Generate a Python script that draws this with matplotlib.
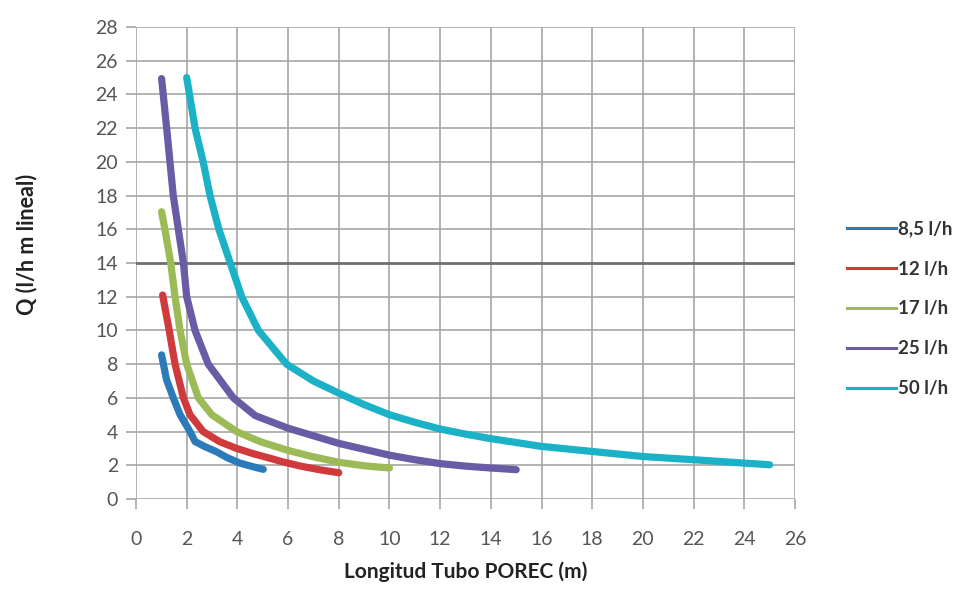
import matplotlib
matplotlib.use("Agg")
import matplotlib.pyplot as plt

plt.rcParams['font.family'] = ['Lato', 'DejaVu Sans']

# Length of PORE C tube (m) vs flow per linear metre, one series per emitter flow
len_85 = [1.01, 1.2, 1.47, 1.74, 2.13, 2.33, 2.7, 3.18, 3.6, 4.1, 4.6, 5.02]
q_85 = [8.55, 7.1, 6.0, 5.0, 4.0, 3.41, 3.12, 2.8, 2.45, 2.13, 1.92, 1.76]

len_12 = [1.05, 1.31, 1.54, 1.87, 2.13, 2.65, 3.3, 3.97, 4.6, 5.28, 5.8, 6.5, 7.3, 8.0]
q_12 = [12.1, 10.0, 8.0, 6.0, 5.0, 4.0, 3.4, 3.0, 2.7, 2.42, 2.2, 1.95, 1.72, 1.56]

len_17 = [1.01, 1.14, 1.37, 1.54, 1.74, 2.0, 2.46, 2.99, 3.97, 4.9, 6.0, 7.0, 8.0, 9.0, 10.0]
q_17 = [17.04, 16.0, 14.0, 12.0, 10.0, 8.0, 6.0, 5.0, 4.0, 3.4, 2.88, 2.5, 2.18, 1.97, 1.84]

len_25 = [1.01, 1.21, 1.34, 1.47, 1.67, 1.87, 2.0, 2.33, 2.85, 3.84, 4.7, 6.0, 7.0, 8.0,
          9.0, 10.0, 11.0, 12.0, 13.0, 14.0, 15.0]
q_25 = [24.94, 22.0, 20.0, 18.0, 16.0, 14.0, 12.0, 10.0, 8.0, 6.0, 4.95, 4.2, 3.75, 3.3,
        2.95, 2.6, 2.33, 2.1, 1.95, 1.84, 1.74]

len_50 = [2.0, 2.33, 2.65, 2.92, 3.27, 3.72, 4.17, 4.83, 5.94, 7.0, 8.0, 9.0, 10.0, 11.0,
          12.0, 13.0, 14.0, 16.0, 18.0, 20.0, 22.0, 24.0, 25.0]
q_50 = [25.0, 22.0, 20.0, 18.0, 16.0, 14.0, 12.0, 10.0, 8.0, 7.0, 6.28, 5.6, 5.0, 4.55,
        4.15, 3.85, 3.58, 3.12, 2.82, 2.52, 2.33, 2.13, 2.03]

series = [
    ("8,5 l/h", len_85, q_85, "#2b7bbb"),
    ("12 l/h", len_12, q_12, "#d13a3c"),
    ("17 l/h", len_17, q_17, "#9cbb57"),
    ("25 l/h", len_25, q_25, "#6a5ba6"),
    ("50 l/h", len_50, q_50, "#1bb1c6"),
]

x_ticks = list(range(0, 27, 2))
y_ticks = list(range(0, 29, 2))

fig = plt.figure(figsize=(9.66, 5.94), dpi=100)
ax = fig.add_axes([136 / 966, 1 - 499 / 594, 659 / 966, 472 / 594])

grid_color = "#a6a6a6"
for x in x_ticks:
    ax.axvline(x, color=grid_color, lw=1.2, zorder=1)
for y in y_ticks:
    if y == 14:
        ax.axhline(y, color="#6e6e6e", lw=2.0, zorder=1)
    else:
        ax.axhline(y, color=grid_color, lw=1.2, zorder=1)

for name, xs, ys, col in series:
    ax.plot(xs, ys, color=col, lw=5.2, solid_capstyle="round",
            solid_joinstyle="round", zorder=3)

ax.set_xlim(0, 26)
ax.set_ylim(0, 28)
ax.set_xticks(x_ticks)
ax.set_yticks(y_ticks)
for s in ax.spines.values():
    s.set_visible(False)
ax.tick_params(axis="both", length=7, width=1.2, color=grid_color,
               labelsize=14, labelcolor="#555555", pad=6)
ax.tick_params(axis="x", pad=16)

ax.set_xlabel("Longitud Tubo POREC (m)", fontsize=15, fontweight="bold",
              color="#222222", labelpad=10)
ax.set_ylabel("Q (l/h m lineal)", fontsize=15.5, fontweight="bold",
              color="#222222")
ax.yaxis.set_label_coords(-99 / 659, 0.54)

handles = [plt.Line2D([], [], color=col, lw=2.2) for _, _, _, col in series]
labels = [name for name, _, _, _ in series]
fig.legend(handles, labels, loc="center left", bbox_to_anchor=(0.877, 0.48),
           frameon=False, handlelength=2.6, handletextpad=0.12,
           labelspacing=1.22, borderpad=0, borderaxespad=0,
           prop={"weight": "bold", "size": 13.5})
for t in fig.legends[0].get_texts():
    t.set_color("#333333")

fig.savefig("out.png", dpi=100, facecolor="white")
